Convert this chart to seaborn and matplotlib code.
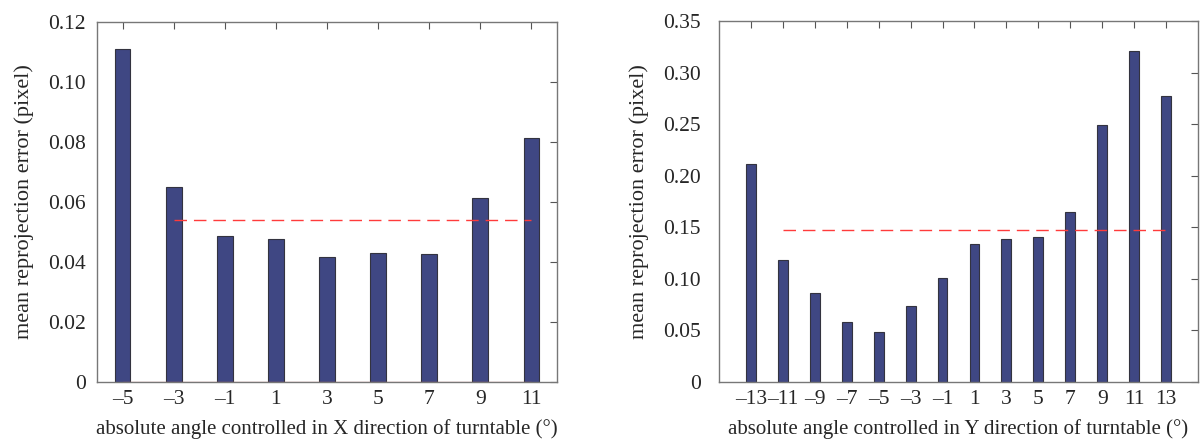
import numpy as np
import matplotlib
matplotlib.use("Agg")
import matplotlib.pyplot as plt
import seaborn as sns
import pandas as pd

# data
x_angles = [-5, -3, -1, 1, 3, 5, 7, 9, 11]
x_errors = [0.1111, 0.0651, 0.0487, 0.0478, 0.0418, 0.0430, 0.0426, 0.0612, 0.0814]
x_mean = 0.054
x_mean_span = [-3, 11]

y_angles = [-13, -11, -9, -7, -5, -3, -1, 1, 3, 5, 7, 9, 11, 13]
y_errors = [0.2114, 0.1186, 0.0860, 0.0582, 0.0485, 0.0737, 0.1005,
            0.1335, 0.1387, 0.1409, 0.1651, 0.2495, 0.3209, 0.2770]
y_mean = 0.1474
y_mean_span = [-11, 13]

x_yticks = [0, 0.02, 0.04, 0.06, 0.08, 0.10, 0.12]
x_yticklabels = ["0", "0.02", "0.04", "0.06", "0.08", "0.10", "0.12"]
y_yticks = [0, 0.05, 0.10, 0.15, 0.20, 0.25, 0.30, 0.35]
y_yticklabels = ["0", "0.05", "0.10", "0.15", "0.20", "0.25", "0.30", "0.35"]

bar_color = "#3f4783"

sns.set_style("white")
plt.rcParams['font.family'] = ['Liberation Serif', 'DejaVu Serif']
plt.rcParams['font.size'] = 12.5

fig = plt.figure(figsize=(12.01, 4.41), dpi=100)
ax1 = fig.add_axes([97/1201, 1-382/441, 460/1201, 360/441])
ax2 = fig.add_axes([719/1201, 1-382/441, 479/1201, 361/441])


def draw_panel(ax, angles, errors, mean, span, yticks, yticklabels, xlim, xlabel, ypad):
	df = pd.DataFrame({"angle": angles, "err": errors})
	sns.barplot(data=df, x="angle", y="err", native_scale=True, width=0.31,
				color=bar_color, saturation=1, edgecolor="#33333f", linewidth=0.8, ax=ax)
	ax.plot(span, [mean, mean], color="#ff3b3b", linestyle=(0, (9, 5)), linewidth=1.0)
	ax.set_xlim(*xlim)
	ax.set_ylim(yticks[0], yticks[-1])
	ax.set_xticks(angles)
	ax.set_xticklabels([str(a).replace("-", "\u2013") for a in angles])
	ax.set_yticks(yticks)
	ax.set_yticklabels(yticklabels)
	ax.tick_params(direction="in", length=5, color="#555555", top=True, right=True,
				   labelsize=15.5, pad=6)
	ax.tick_params(axis="y", pad=ypad)
	for sp in ax.spines.values():
		sp.set_color("#777777")
		sp.set_linewidth(1.0)
	ax.set_xlabel(xlabel, fontsize=15, labelpad=7)
	ax.set_ylabel("mean reprojection error (pixel)", fontsize=16, labelpad=10)


draw_panel(ax1, x_angles, x_errors, x_mean, x_mean_span, x_yticks, x_yticklabels,
		   (-6, 12), "absolute angle controlled in X direction of turntable (°)", 8)
# faint red baseline seen along the bottom of the left panel
ax1.plot([x_angles[0], x_angles[-1]], [0, 0], color="#c05050", linewidth=1.0, alpha=0.6)

draw_panel(ax2, y_angles, y_errors, y_mean, y_mean_span, y_yticks, y_yticklabels,
		   (-15, 15), "absolute angle controlled in Y direction of turntable (°)", 13)

fig.savefig("out.png", dpi=100)
